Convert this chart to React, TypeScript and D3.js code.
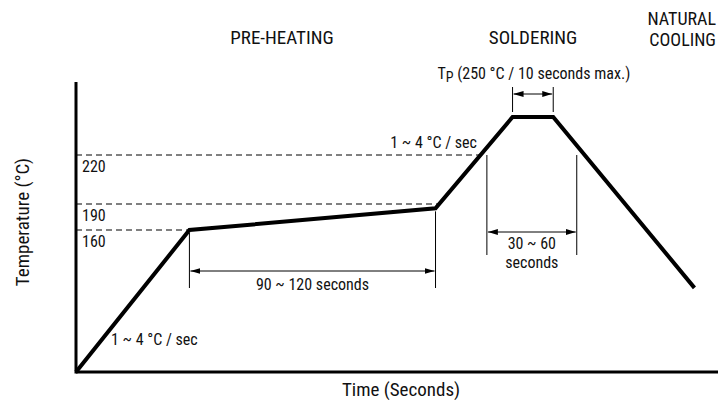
import React from "react";
import * as d3 from "d3";

// reflow profile (schematic, not to scale)
const profileTimes = [0, 53, 168, 204, 223, 289];
const profileTemps = [25, 160, 185, 250, 250, 105];

// dashed guide temperatures
const guideTemps = [160, 190, 220];

// dimension spans (seconds)
const soakSpan = [53, 168];
const reflowSpan = [192, 234];
const peakSpan = [204, 223];

const phaseLabels = ["PRE-HEATING", "SOLDERING"];
const coolingLabel = ["NATURAL", "COOLING"];

const W = 718;
const H = 400;
const FONT = "'Liberation Sans Narrow', 'Roboto Condensed', 'DejaVu Sans Condensed', Roboto, sans-serif";

const x = d3.scaleLinear().domain([0, 300]).range([76, 718]);
// the temperature axis of the drawing is not linear, so piecewise
const y = d3.scaleLinear().domain([25, 160, 190, 220, 250]).range([372, 230, 204, 155, 117]);

const pts: [number, number][] = profileTimes.map((t, i) => [x(t), y(profileTemps[i])]);

// first crossing of the profile with a horizontal pixel row
function crossX(py: number) {
  for (let i = 0; i < pts.length - 1; i++) {
    const [x0, y0] = pts[i];
    const [x1, y1] = pts[i + 1];
    if ((y0 - py) * (y1 - py) <= 0 && y0 !== y1) {
      return x0 + ((py - y0) / (y1 - y0)) * (x1 - x0);
    }
  }
  return pts[pts.length - 1][0];
}

function curveY(px: number) {
  for (let i = 0; i < pts.length - 1; i++) {
    const [x0, y0] = pts[i];
    const [x1, y1] = pts[i + 1];
    if (px >= x0 && px <= x1) return y0 + ((px - x0) / (x1 - x0)) * (y1 - y0);
  }
  return 0;
}

const line = d3.line();

const Dim = ({ x0, x1, top0, top1, bottom, ay }: { x0: number; x1: number; top0: number; top1: number; bottom: number; ay: number }) => (
  <g stroke="#000" strokeWidth={1}>
    <line x1={x0} x2={x0} y1={top0} y2={bottom} />
    <line x1={x1} x2={x1} y1={top1} y2={bottom} />
    <line x1={x0 + 1} x2={x1 - 1} y1={ay} y2={ay} markerStart="url(#arr)" markerEnd="url(#arr)" />
  </g>
);

export default function App() {
  const [s0, s1] = soakSpan.map(x);
  const [r0, r1] = reflowSpan.map(x);
  const [p0, p1] = peakSpan.map(x);
  return (
    <svg width={W} height={H} style={{ position: "absolute", left: 0, top: 0, background: "#fff" }} fontFamily={FONT} fontSize={16} fill="#111">
      <defs>
        <marker id="arr" viewBox="0 0 10 6" refX={10} refY={3} markerWidth={10} markerHeight={6} markerUnits="userSpaceOnUse" orient="auto-start-reverse">
          <path d="M0,0 L10,3 L0,6 Z" fill="#000" />
        </marker>
      </defs>

      {/* guides */}
      {guideTemps.map((t) => (
        <g key={t}>
          <line x1={x(0)} x2={crossX(y(t))} y1={y(t)} y2={y(t)} stroke="#000" strokeWidth={1} strokeDasharray="6,4" />
          <text x={82} y={y(t) + 17}>{t}</text>
        </g>
      ))}

      {/* dimension marks */}
      <Dim x0={s0} x1={s1} top0={curveY(s0) + 3} top1={curveY(s1) + 3} bottom={288} ay={271} />
      <text x={(s0 + s1) / 2} y={290} textAnchor="middle">90 ~ 120 seconds</text>

      <Dim x0={r0} x1={r1} top0={155} top1={155} bottom={255} ay={232} />
      <text x={(r0 + r1) / 2} y={249} textAnchor="middle">30 ~ 60</text>
      <text x={(r0 + r1) / 2} y={268} textAnchor="middle">seconds</text>

      <Dim x0={p0} x1={p1} top0={87} top1={87} bottom={112} ay={94} />
      <text x={(p0 + p1) / 2 + 1} y={79} textAnchor="middle">
        T<tspan fontSize={14} dy={3}>P</tspan>
        <tspan dy={-3}> (250 °C / 10 seconds max.)</tspan>
      </text>

      <text x={477} y={148} textAnchor="end">1 ~ 4 °C / sec</text>
      <text x={111} y={345}>1 ~ 4 °C / sec</text>

      {/* profile */}
      <path d={line(pts) ?? ""} fill="none" stroke="#000" strokeWidth={4} strokeLinejoin="miter" />

      {/* axes */}
      <line x1={x(0)} x2={x(0)} y1={82} y2={y(25) + 1.5} stroke="#000" strokeWidth={3} />
      <line x1={x(0)} x2={W} y1={y(25)} y2={y(25)} stroke="#000" strokeWidth={3} />

      <g fontSize={19}>
        <text x={401} y={396} textAnchor="middle">Time (Seconds)</text>
        <text transform="translate(29,222) rotate(-90)" textAnchor="middle">Temperature (°C)</text>

        <text x={282} y={44} textAnchor="middle">{phaseLabels[0]}</text>
        <text x={533} y={44} textAnchor="middle">{phaseLabels[1]}</text>
      </g>
      <g fontSize={18} textAnchor="end">
        <text x={716} y={25}>{coolingLabel[0]}</text>
        <text x={716} y={46}>{coolingLabel[1]}</text>
      </g>
    </svg>
  );
}
